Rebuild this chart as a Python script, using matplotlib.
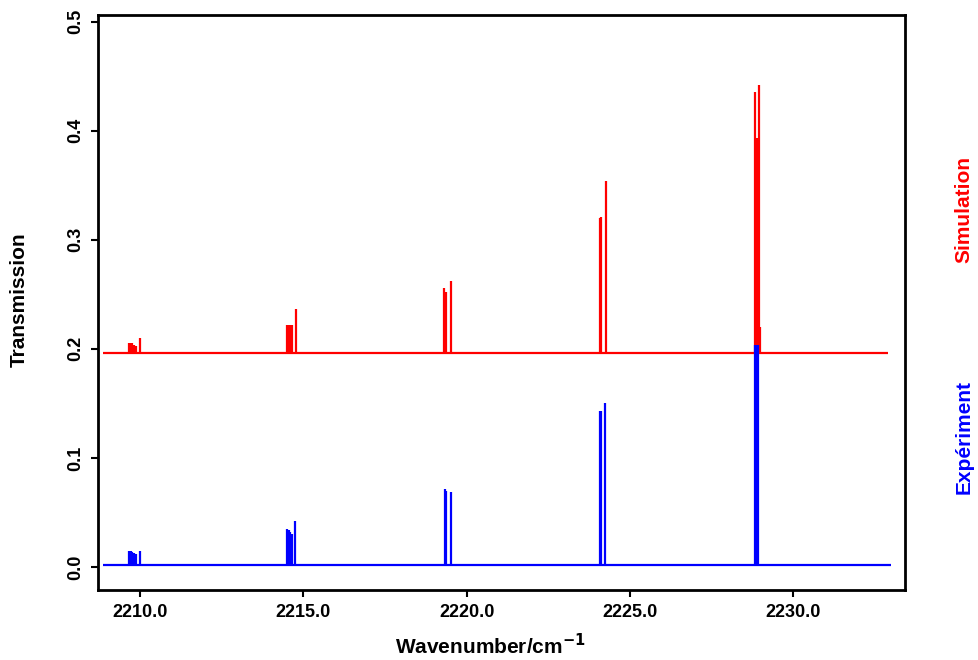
import numpy as np
import matplotlib
matplotlib.use("Agg")
import matplotlib.pyplot as plt

plt.rcParams['font.family'] = ['Liberation Sans', 'DejaVu Sans']
plt.rcParams['font.weight'] = 'bold'

# spectrum range (cm-1) and baselines
x_start = 2208.87
x_end_sim = 2232.9
x_end_exp = 2233.0
base_sim = 0.196
base_exp = 0.002

# simulated lines: position / peak transmission
sim_pos = [2209.66, 2209.71, 2209.76, 2209.81, 2209.86, 2210.00,
           2214.50, 2214.55, 2214.60, 2214.65, 2214.78,
           2219.31, 2219.36, 2219.53,
           2224.09, 2224.13, 2224.27,
           2228.84, 2228.90, 2228.96, 2228.99]
sim_top = [0.205, 0.205, 0.205, 0.204, 0.203, 0.210,
           0.222, 0.222, 0.222, 0.222, 0.237,
           0.256, 0.252, 0.262,
           0.320, 0.321, 0.354,
           0.435, 0.393, 0.442, 0.220]

# measured lines
exp_pos = [2209.66, 2209.71, 2209.76, 2209.81, 2209.86, 2210.00,
           2214.50, 2214.55, 2214.60, 2214.65, 2214.75,
           2219.33, 2219.36, 2219.53,
           2224.09, 2224.13, 2224.24,
           2228.85, 2228.89, 2228.93]
exp_top = [0.015, 0.015, 0.014, 0.013, 0.012, 0.015,
           0.035, 0.034, 0.032, 0.030, 0.042,
           0.072, 0.070, 0.069,
           0.143, 0.143, 0.150,
           0.204, 0.204, 0.204]

xticks = [2210.0, 2215.0, 2220.0, 2225.0, 2230.0]
yticks = [0.0, 0.1, 0.2, 0.3, 0.4, 0.5]

fig = plt.figure(figsize=(9.79, 6.60), dpi=100)
ax = fig.add_axes([98/979, 1-590/660, 807/979, 575/660])

ax.hlines(base_sim, x_start, x_end_sim, color='#ff0000', lw=1.6)
ax.vlines(sim_pos, base_sim, sim_top, color='#ff0000', lw=1.6)
ax.hlines(base_exp, x_start, x_end_exp, color='#0000ff', lw=1.6)
ax.vlines(exp_pos, base_exp, exp_top, color='#0000ff', lw=1.6)

ax.set_xlim(2208.71, 2233.43)
ax.set_ylim(-0.021, 0.506)
ax.set_xticks(xticks)
ax.set_xticklabels([f"{t:.1f}" for t in xticks])
ax.set_yticks(yticks)
ax.set_yticklabels([f"{t:.1f}" for t in yticks], rotation=90, va='center')

for s in ax.spines.values():
    s.set_linewidth(2)
ax.tick_params(direction='out', length=5, width=1.5, labelsize=13, pad=5)

ax.set_xlabel("Wavenumber/cm$^{\\mathbf{-1}}$", fontsize=15, fontweight='bold')
ax.xaxis.set_label_coords(0.486, -0.074)
ax.set_ylabel("Transmission", fontsize=15, fontweight='bold')
ax.yaxis.set_label_coords(-0.086, 0.505)

fig.text(0.985, 1-210/660, "Simulation", color='#ff0000', rotation=90,
         ha='center', va='center', fontsize=15, fontweight='bold')
fig.text(0.985, 1-437/660, "Expériment", color='#0000ff', rotation=90,
         ha='center', va='center', fontsize=15, fontweight='bold')

fig.savefig("out.png", dpi=100)
